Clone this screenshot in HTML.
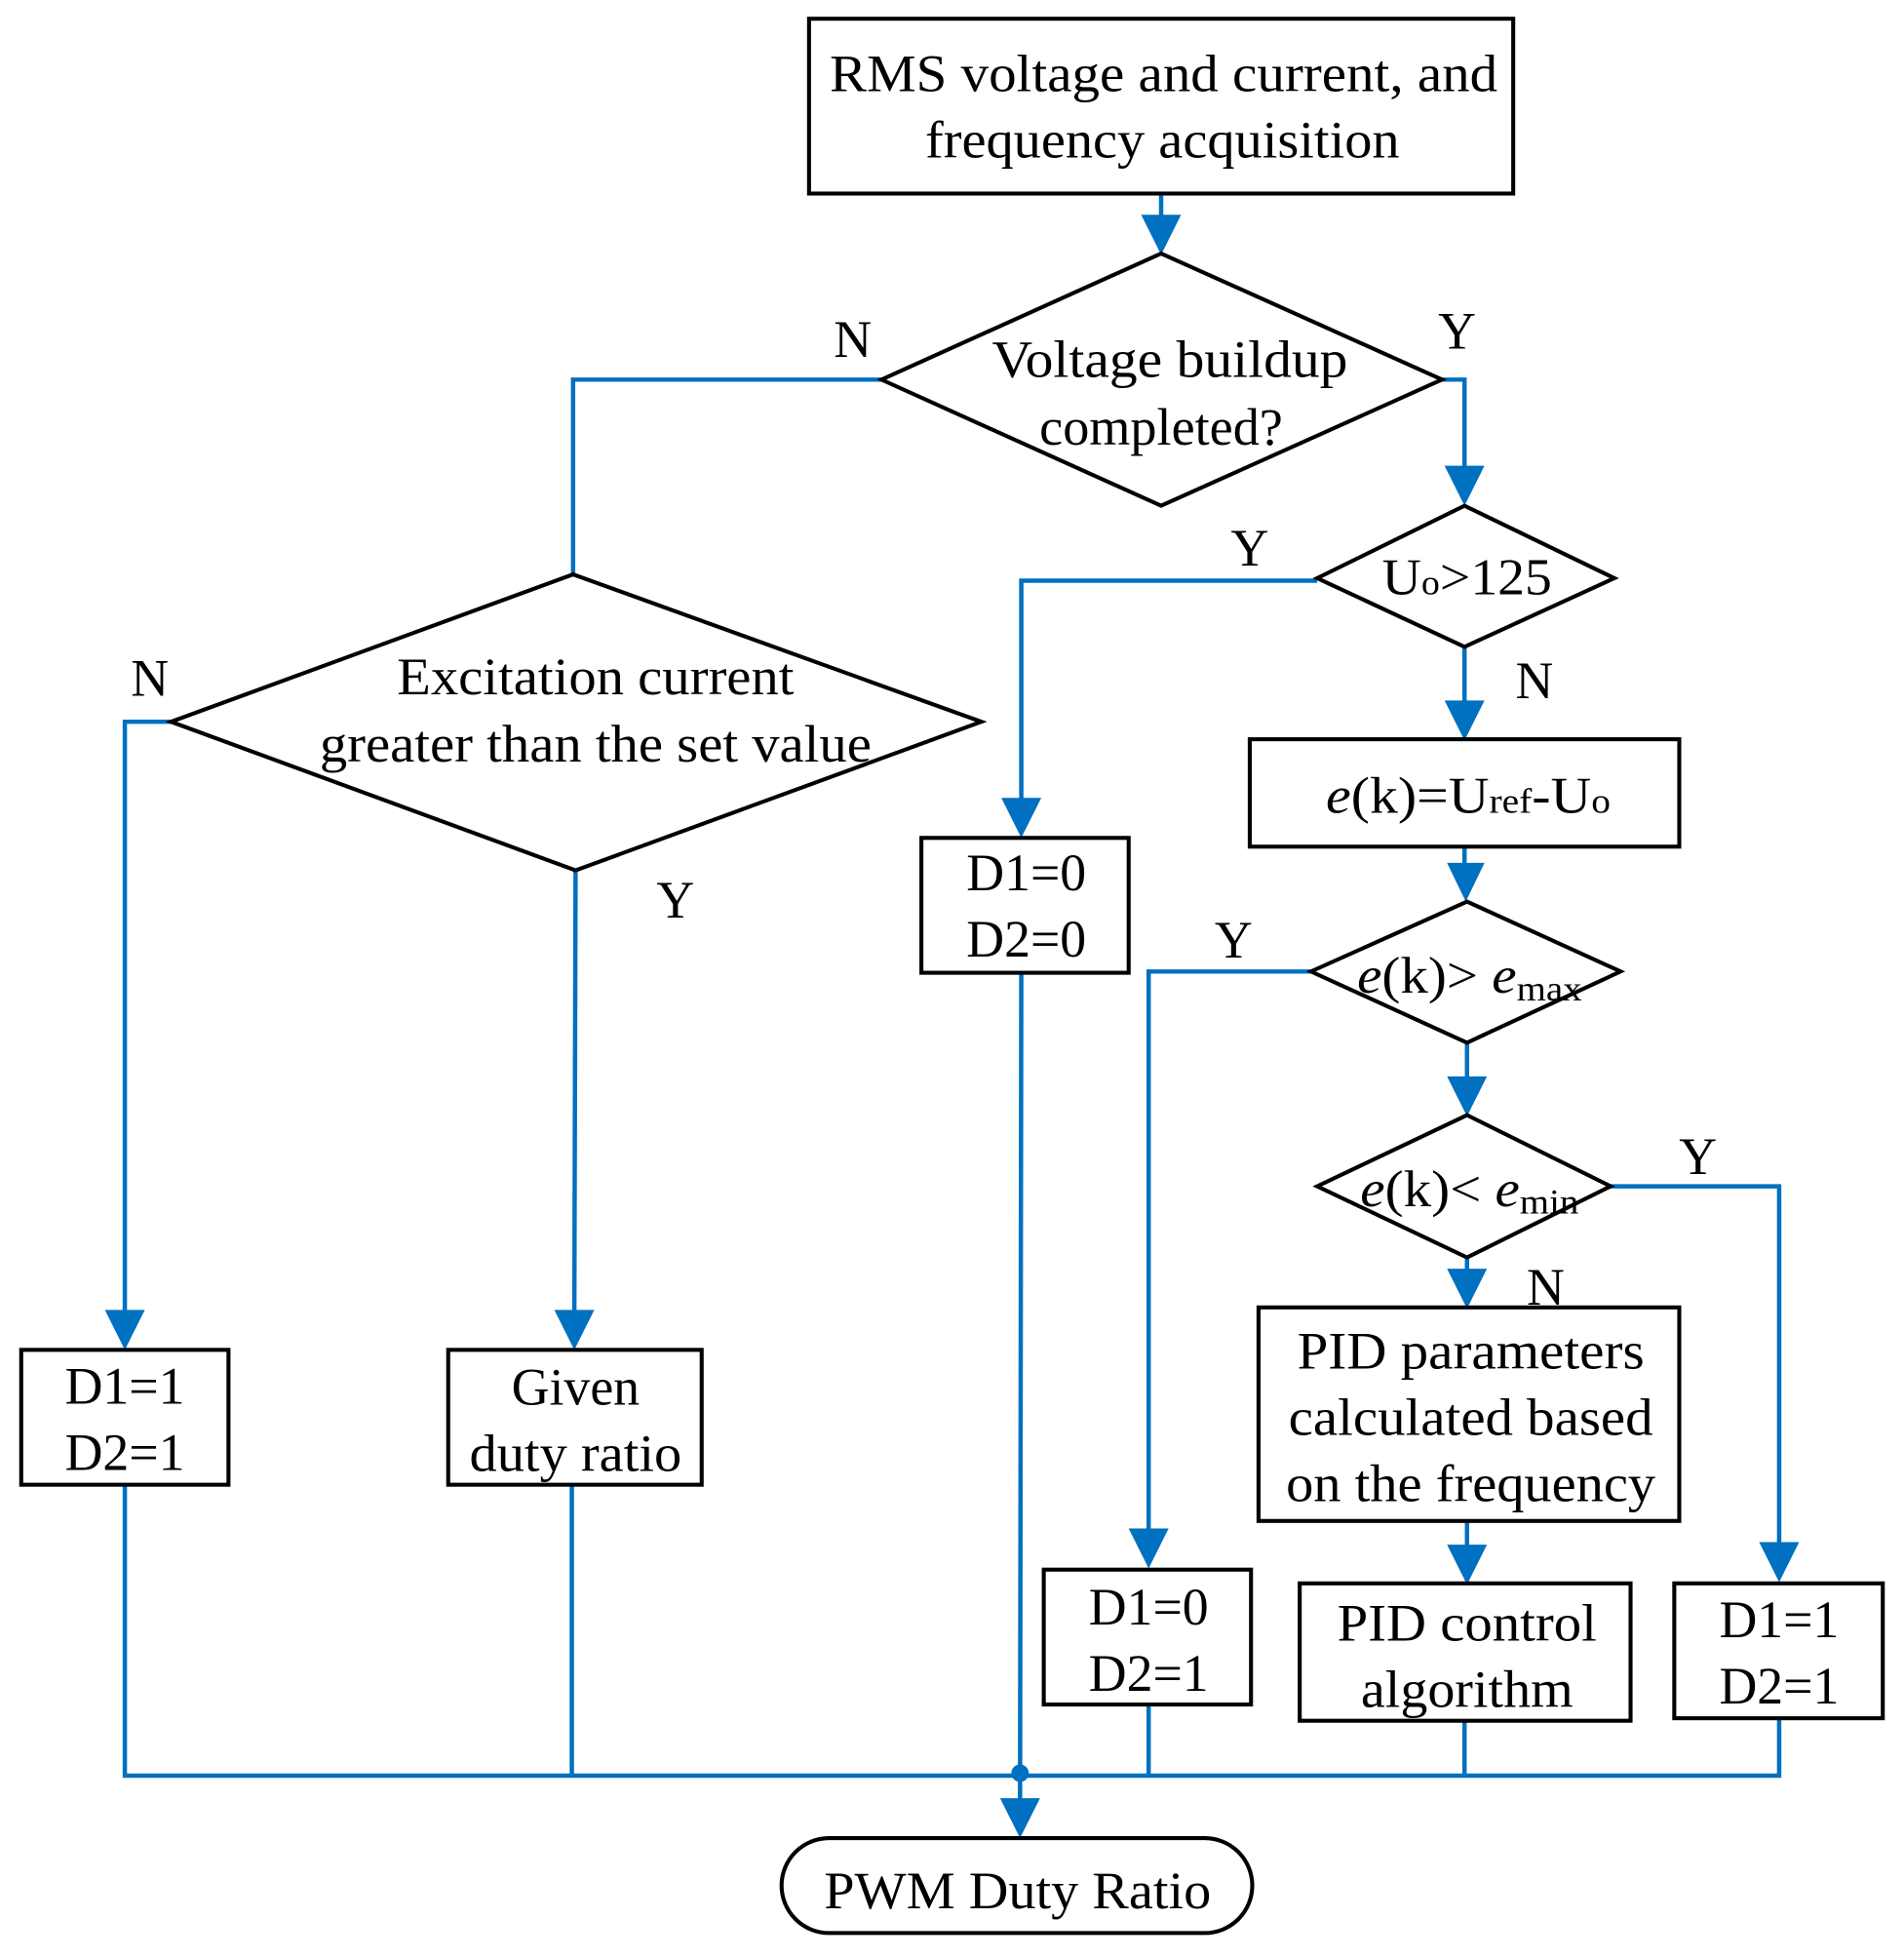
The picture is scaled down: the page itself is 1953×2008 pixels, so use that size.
<!DOCTYPE html>
<html><head><meta charset="utf-8"><style>html,body{margin:0;padding:0;background:#fff}svg{display:block}</style></head>
<body>
<svg width="1953" height="2008" viewBox="0 0 1525 1568" preserveAspectRatio="none" xmlns="http://www.w3.org/2000/svg">
<g fill="none" stroke="#0070C0" stroke-width="3.5">
<polyline points="930,155 930,180"/>
<polyline points="706,304 459,304 459,460"/>
<polyline points="1155,304 1173,304 1173,380"/>
<polyline points="1055,465 818,465 818,645"/>
<polyline points="1173,518 1173,567"/>
<polyline points="1173,678 1173,700"/>
<polyline points="1050,778 920,778 920,1230"/>
<polyline points="1175,835 1175,870"/>
<polyline points="1290,950 1425,950 1425,1240"/>
<polyline points="1175,1007 1175,1024"/>
<polyline points="1175,1218 1175,1245"/>
<polyline points="137,578 100,578 100,1055"/>
<polyline points="461,697 460,1055"/>
<polyline points="100,1189 100,1422 1425,1422 1425,1376"/>
<polyline points="458,1189 458,1422"/>
<polyline points="818,779 817,1448"/>
<polyline points="920,1365 920,1422"/>
<polyline points="1173,1378 1173,1422"/>
</g>
<g fill="#0070C0">
<polygon points="914,172 946,172 930,204"/>
<polygon points="1157,373 1189,373 1173,405"/>
<polygon points="802,639 834,639 818,671"/>
<polygon points="1157,561 1189,561 1173,593"/>
<polygon points="1159,691 1189,691 1174,722"/>
<polygon points="904,1224 936,1224 920,1256"/>
<polygon points="1159,862 1191,862 1175,894"/>
<polygon points="1409,1235 1441,1235 1425,1267"/>
<polygon points="1159,1016 1191,1016 1175,1048"/>
<polygon points="1159,1237 1191,1237 1175,1269"/>
<polygon points="84,1049 116,1049 100,1081"/>
<polygon points="444,1049 476,1049 460,1081"/>
<polygon points="801,1440 833,1440 817,1472"/>
<circle cx="817" cy="1420" r="7"/>
</g>
<g fill="#fff" stroke="#000" stroke-width="3.2">
<rect x="648" y="15" width="564" height="140"/>
<polygon points="706,304 930,203 1155,304 930,405"/>
<polygon points="1055,463 1173,405 1293,463 1173,518"/>
<rect x="1001" y="592" width="344" height="86"/>
<polygon points="1050,778 1175,722 1298,778 1175,835"/>
<polygon points="1055,950 1175,893 1290,950 1175,1007"/>
<rect x="1008" y="1047" width="337" height="171"/>
<rect x="1041" y="1268" width="265" height="110"/>
<rect x="836" y="1257" width="166" height="108"/>
<rect x="1341" y="1268" width="167" height="108"/>
<rect x="738" y="671" width="166" height="108"/>
<polygon points="137,578 459,460 786,578 461,697"/>
<rect x="17" y="1081" width="166" height="108"/>
<rect x="359" y="1081" width="203" height="108"/>
<rect x="626" y="1472" width="377" height="76" rx="38"/>
</g>
<g font-family="Liberation Serif, serif" font-size="42" fill="#000" text-anchor="middle">
<text x="932" y="73" textLength="535" lengthAdjust="spacingAndGlyphs">RMS voltage and current, and</text>
<text x="931" y="126" textLength="380" lengthAdjust="spacingAndGlyphs">frequency acquisition</text>
<text x="937" y="302" textLength="285" lengthAdjust="spacingAndGlyphs">Voltage buildup</text>
<text x="930" y="356" textLength="195" lengthAdjust="spacingAndGlyphs">completed?</text>
<text x="683" y="286">N</text>
<text x="1167" y="279">Y</text>
<text x="1175" y="476" font-size="41" textLength="136" lengthAdjust="spacingAndGlyphs">U<tspan font-size="28">o</tspan>&gt;125</text>
<text x="1001" y="453">Y</text>
<text x="1229" y="559">N</text>
<text x="1176" y="651" font-size="41" textLength="228" lengthAdjust="spacingAndGlyphs"><tspan font-style="italic">e</tspan>(k)=U<tspan font-size="28">ref</tspan>-U<tspan font-size="28">o</tspan></text>
<text x="1177" y="795" font-size="41" textLength="180" lengthAdjust="spacingAndGlyphs"><tspan font-style="italic">e</tspan>(k)&gt; <tspan font-style="italic">e</tspan><tspan font-size="28" dy="6">max</tspan></text>
<text x="988" y="767">Y</text>
<text x="1177" y="966" font-size="41" textLength="175" lengthAdjust="spacingAndGlyphs"><tspan font-style="italic">e</tspan>(k)&lt; <tspan font-style="italic">e</tspan><tspan font-size="28" dy="6">min</tspan></text>
<text x="1360" y="940">Y</text>
<text x="1238" y="1045">N</text>
<text x="1178" y="1096" textLength="278" lengthAdjust="spacingAndGlyphs">PID parameters</text>
<text x="1178" y="1149" textLength="292" lengthAdjust="spacingAndGlyphs">calculated based</text>
<text x="1178" y="1202" textLength="296" lengthAdjust="spacingAndGlyphs">on the frequency</text>
<text x="1175" y="1314" textLength="208" lengthAdjust="spacingAndGlyphs">PID control</text>
<text x="1175" y="1367" textLength="170" lengthAdjust="spacingAndGlyphs">algorithm</text>
<text x="920" y="1301">D1=0</text>
<text x="920" y="1354">D2=1</text>
<text x="1425" y="1311">D1=1</text>
<text x="1425" y="1364">D2=1</text>
<text x="822" y="713">D1=0</text>
<text x="822" y="766">D2=0</text>
<text x="477" y="556" textLength="318" lengthAdjust="spacingAndGlyphs">Excitation current</text>
<text x="477" y="610" textLength="442" lengthAdjust="spacingAndGlyphs">greater than the set value</text>
<text x="120" y="557">N</text>
<text x="541" y="735">Y</text>
<text x="100" y="1124">D1=1</text>
<text x="100" y="1177">D2=1</text>
<text x="461" y="1125">Given</text>
<text x="461" y="1178" textLength="170" lengthAdjust="spacingAndGlyphs">duty ratio</text>
<text x="815" y="1528" textLength="310" lengthAdjust="spacingAndGlyphs">PWM Duty Ratio</text>
</g>
</svg>
</body></html>
